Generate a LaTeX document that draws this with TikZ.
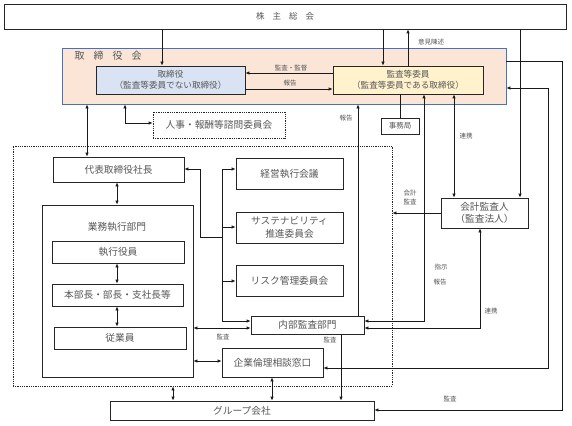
\documentclass[tikz,border=0pt]{standalone}
\usepackage{fontspec}
\setmainfont{Noto Sans CJK JP}
\usetikzlibrary{arrows.meta,calc}
\definecolor{txt}{HTML}{575757}
\definecolor{peach}{HTML}{FBE5D6}
\definecolor{bordblue}{HTML}{4472C4}
\definecolor{lblue}{HTML}{DAE3F3}
\definecolor{lyellow}{HTML}{FFF2CC}
\tikzset{
  box/.style={draw=black!85, line width=0.75pt, fill=white, inner sep=0pt, text=txt,
    font=\fontsize{9.7}{12.5}\selectfont, align=center},
  smallbox/.style={box, font=\fontsize{8.6}{11}\selectfont},
  dashbox/.style={box, dash pattern=on 1pt off 0.8pt},
  lbl/.style={text=txt, font=\fontsize{6.5}{8}\selectfont, inner sep=0pt, align=center},
  ln/.style={line width=0.75pt, draw=black!90},
  arr/.style={ln, -{Latex[length=4pt,width=3.4pt]}},
  darr/.style={ln, {Latex[length=4pt,width=3.4pt]}-{Latex[length=4pt,width=3.4pt]}}
}
\begin{document}
\begin{tikzpicture}[x=1pt,y=-1pt]
\useasboundingbox (0,0) rectangle (572,425);
\fill[white] (0,0) rectangle (572,425);

% columns and rows
\coordinate (c87) at (87,0);
\coordinate (c117) at (117,0);
\coordinate (c162) at (162,0);
\coordinate (c173) at (173,0);
\coordinate (c272) at (272,0);
\coordinate (c341) at (341,0);
\coordinate (c358) at (358,0);
\coordinate (c383) at (383,0);
\coordinate (c400) at (400,0);
\coordinate (c454) at (454,0);
\coordinate (c520) at (520,0);
\coordinate (r73) at (0,73);
\coordinate (r89) at (0,89);
\coordinate (r328) at (0,328);
\coordinate (r361) at (0,361);

% main boxes
\node[box, minimum width=562pt, minimum height=25pt, font=\fontsize{8.5}{10}\selectfont] (kabu) at (285,16.5)
  {株\hspace{8pt}主\hspace{8pt}総\hspace{8pt}会};
\node[draw=bordblue, line width=0.8pt, fill=peach, minimum width=444pt, minimum height=56pt, inner sep=0pt] (torikai) at (284,76) {};
\node[text=txt, font=\fontsize{10}{12}\selectfont, inner sep=0pt] (torikailbl) at (108,56)
  {取\hspace{9pt}締\hspace{9pt}役\hspace{9pt}会};
\node[smallbox, fill=lblue, minimum width=149pt, minimum height=28pt] (tori) at (170.5,80)
  {取締役\\（監査等委員でない取締役）};
\node[smallbox, fill=lyellow, minimum width=150pt, minimum height=28pt] (kansa) at (408,80)
  {監査等委員\\（監査等委員である取締役）};
\node[dashbox, minimum width=132pt, minimum height=26pt] (jinji) at (219,125) {人事・報酬等諮問委員会};
\node[box, font=\fontsize{7.5}{9}\selectfont, minimum width=38pt, minimum height=16pt] (jimu) at (400,126) {事務局};

\node[draw=black!85, line width=0.75pt, dash pattern=on 1pt off 0.8pt, minimum width=379pt, minimum height=240pt, inner sep=0pt] (exec) at (202.5,266) {};

\node[box, minimum width=131pt, minimum height=25pt] (daihyo) at (118.5,169.5) {代表取締役社長};
\node[box, minimum width=151pt, minimum height=172pt] (gyomu) at (117.5,291) {};
\node[text=txt, font=\fontsize{9.7}{12}\selectfont, inner sep=0pt] (gyomulbl) at (117,227) {業務執行部門};
\node[box, minimum width=132pt, minimum height=22pt] (shikko) at (118,252) {執行役員};
\node[box, minimum width=131pt, minimum height=22pt] (honbu) at (117.5,295) {本部長・部長・支社長等};
\node[box, minimum width=132pt, minimum height=22pt] (jugyo) at (120,338) {従業員};

\node[box, minimum width=107pt, minimum height=31pt] (keiei) at (289.5,173.5) {経営執行会議};
\node[box, minimum width=107pt, minimum height=31pt] (sustena) at (289.5,227.5) {サステナビリティ\\推進委員会};
\node[box, minimum width=107pt, minimum height=31pt] (risk) at (289.5,280.5) {リスク管理委員会};
\node[box, minimum width=113pt, minimum height=18pt] (naibu) at (307.5,325) {内部監査部門};
\node[box, minimum width=101pt, minimum height=29pt] (kigyo) at (272.5,362.5) {企業倫理相談窓口};
\node[box, minimum width=264pt, minimum height=19pt] (group) at (242,410.5) {グループ会社};
\node[box, minimum width=87pt, minimum height=30pt] (kaikei) at (484.5,213) {会計監査人\\（監査法人）};

% corner points
\coordinate (a1) at (562,61);
\coordinate (a2) at (562,410);
\coordinate (k1) at (548,368);
\coordinate (k2) at (548,88);
\coordinate (j1) at (125,123);
\coordinate (s1) at (424,321);
\coordinate (s2) at (480,328);
\coordinate (d1) at (200,169);
\coordinate (d2) at (200,237);
\coordinate (b1) at (222,169);
\coordinate (b2) at (222,237);
\coordinate (b3) at (222,281);
\coordinate (b4) at (222,321);
\coordinate (b5) at (222,227);

% connectors: top part
\draw[arr] (kabu.south -| c162) -- (tori.north -| c162);
\draw[arr] (kabu.south -| c383) -- (kansa.north -| c383);
\draw[arr] (kansa.north) -- (kansa.north |- kabu.south);
\draw[arr] (kansa.west |- r73) -- (tori.east |- r73);
\draw[arr] (tori.east |- r89) -- (kansa.west |- r89);
\draw[arr] (kabu.south -| c520) -- (kaikei.north -| c520);
\draw[darr] (kansa.south -| c454) -- (kaikei.north -| c454);
\draw[arr] (torikai.east |- a1) -- (a1) -- (a2) -- (group.east |- a2);
\draw[darr] (kigyo.east |- k1) -- (k1) -- (k2) -- (torikai.east |- k2);
\draw[darr] (torikai.south -| c87) -- (daihyo.north -| c87);
\draw[darr] (torikai.south -| j1) -- (j1) -- (jinji.west |- j1);
\draw[arr] (naibu.north -| c358) -- (torikai.south -| c358);
\draw[ln] (kansa.south -| c400) -- (jimu.north);
\draw[darr] (kansa.south -| s1) -- (s1) -- (naibu.east |- s1);
\draw[darr] (kaikei.south -| s2) -- (s2) -- (naibu.east |- s2);
\draw[arr] (kaikei.west) -- (exec.east |- kaikei.west);

% executive part
\draw[darr] (daihyo.south -| c117) -- (gyomu.north -| c117);
\draw[darr] (shikko.south -| c117) -- (honbu.north -| c117);
\draw[darr] (honbu.south -| c117) -- (jugyo.north -| c117);
\draw[arr] (b2) -- (d2) -- (d1) -- (daihyo.east |- d1);
\draw[darr] (keiei.west |- b1) -- (b1) -- (b4) -- (naibu.west |- b4);
\draw[arr] (b5) -- (sustena.west |- b5);
\draw[arr] (b3) -- (risk.west |- b3);
\draw[darr] (gyomu.east |- r328) -- (naibu.west |- r328);
\draw[darr] (gyomu.east |- r361) -- (kigyo.west |- r361);
\draw[arr] (naibu.south -| c341) -- (group.north -| c341);
\draw[darr] (kigyo.south -| c272) -- (group.north -| c272);
\draw[darr] (exec.south -| c173) -- (group.north -| c173);

% labels
\node[lbl] (l1) at (431,42) {意見陳述};
\node[lbl] (l2) at (291,68) {監査・監督};
\node[lbl] (l3) at (290,83.5) {報告};
\node[lbl] (l4) at (346,118) {報告};
\node[lbl] (l5) at (466,136) {連携};
\node[lbl, font=\fontsize{6.5}{9}\selectfont] (l6) at (410,197.5) {会計\\監査};
\node[lbl] (l7) at (441,267) {指示};
\node[lbl] (l8) at (440,282) {報告};
\node[lbl] (l9) at (491,311) {連携};
\node[lbl] (l10) at (223,336.5) {監査};
\node[lbl] (l11) at (330,340) {監査};
\node[lbl] (l12) at (450,399) {監査};
\end{tikzpicture}
\end{document}
